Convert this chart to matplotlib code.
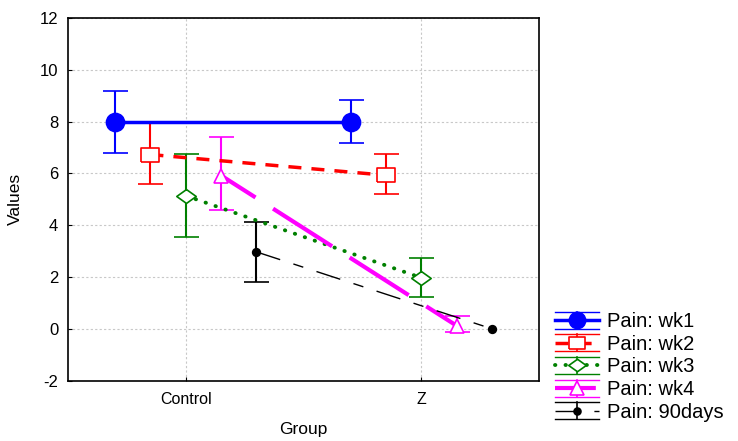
import matplotlib.pyplot as plt
from matplotlib.legend_handler import HandlerBase
from matplotlib.lines import Line2D

groups = ['Control', 'Z']
series = ['Pain: wk1', 'Pain: wk2', 'Pain: wk3', 'Pain: wk4', 'Pain: 90days']

# means and error bar limits per group (Control, Z)
wk1 = [8.0, 8.0]
wk1_lo = [6.8, 7.18]
wk1_hi = [9.18, 8.82]

wk2 = [6.73, 5.93]
wk2_lo = [5.6, 5.2]
wk2_hi = [7.95, 6.77]

wk3 = [5.14, 1.97]
wk3_lo = [3.55, 1.24]
wk3_hi = [6.77, 2.72]

wk4 = [5.92, 0.12]
wk4_lo = [4.58, -0.14]
wk4_hi = [7.39, 0.48]

d90 = [2.97, 0.0]
d90_lo = [1.8, 0.0]
d90_hi = [4.11, 0.0]

means = [wk1, wk2, wk3, wk4, d90]
lows = [wk1_lo, wk2_lo, wk3_lo, wk4_lo, d90_lo]
highs = [wk1_hi, wk2_hi, wk3_hi, wk4_hi, d90_hi]

offsets = [-0.3, -0.15, 0.0, 0.15, 0.3]
colors = ['#0000ff', '#ff0000', '#008000', '#ff00ff', '#000000']

# wide box and squat diamond markers
box = [(-1.3, -1), (1.3, -1), (1.3, 1), (-1.3, 1), (-1.3, -1)]
diamond = [(0, 1), (1.4, 0), (0, -1), (-1.4, 0), (0, 1)]
markers = ['o', box, diamond, '^', 'o']
msizes = [13, 13.5, 14, 10.5, 5.5]
mfaces = ['#0000ff', 'white', 'white', 'white', '#000000']
styles = ['-', (0, (3.75, 2.9)), (0, (0.1, 2.6)), (7, (16.8, 5)),
          (0, (18, 10, 7.5, 10))]
widths = [2.5, 2.5, 2.8, 3, 1]
dash_caps = ['butt', 'butt', 'round', 'butt', 'butt']


class StatHandler(HandlerBase):
    # legend key: series line with marker between two thin rules
    def create_artists(self, legend, orig_handle, xdescent, ydescent,
                       width, height, fontsize, trans):
        src = orig_handle.lines[0]
        x0, x1 = -xdescent, -xdescent + width
        xm = (x0 + x1) / 2
        yc = -ydescent + height / 2
        dy = 0.42 * fontsize
        c = src.get_color()
        mid = Line2D([x0, x1], [yc, yc])
        mid.update_from(src)
        mid.set_marker('None')
        mk = Line2D([xm], [yc])
        mk.update_from(src)
        mk.set_linestyle('None')
        mk.set_markersize(src.get_markersize() * 0.9)
        top = Line2D([x0, x1], [yc + dy, yc + dy], color=c, lw=1)
        bot = Line2D([x0, x1], [yc - dy, yc - dy], color=c, lw=1)
        vert = Line2D([xm, xm], [yc - dy, yc + dy], color=c, lw=1.2)
        arts = [top, bot, vert, mid, mk]
        for a in arts:
            a.set_clip_box(None)
            a.set_clip_path(None)
            a.set_transform(trans)
        return arts


plt.rcParams['font.family'] = ['Liberation Sans', 'DejaVu Sans']
plt.rcParams['axes.unicode_minus'] = False

fig = plt.figure(figsize=(7.38, 4.41), dpi=100)
ax = fig.add_axes([0.0921, 0.137, 0.6383, 0.822])

handles = []
for i in range(len(series)):
    xs = [g + offsets[i] for g in range(len(groups))]
    m = means[i]
    err = [[m[j] - lows[i][j] for j in range(2)],
           [highs[i][j] - m[j] for j in range(2)]]
    show = [highs[i][j] > lows[i][j] for j in range(2)]
    h = ax.errorbar(xs, m, yerr=err, errorevery=show, color=colors[i],
                    ls=styles[i], lw=widths[i], marker=markers[i], ms=msizes[i],
                    mfc=mfaces[i], mec=colors[i], mew=1.2, elinewidth=1.5,
                    capsize=9, capthick=1.5, dash_capstyle=dash_caps[i],
                    label=series[i], zorder=3)
    handles.append(h)

ax.set_xlim(-0.5, 1.5)
ax.set_ylim(-2, 12)
ax.set_yticks(range(-2, 13, 2))
ax.set_xticks(range(len(groups)))
ax.set_xticklabels(groups)
ax.grid(True, color='#c8c8c8', linestyle=(0, (2, 2)), linewidth=0.8)
ax.set_axisbelow(True)
ax.tick_params(direction='in', length=3)
ax.tick_params(axis='y', labelsize=12, pad=7)
ax.tick_params(axis='x', labelsize=11.5, pad=8)
for s in ax.spines.values():
    s.set_linewidth(1.2)

ax.set_xlabel('Group', fontsize=12.5, labelpad=11)
ax.set_ylabel('Values', fontsize=12.5, labelpad=12)

fig.legend(handles, series, loc='upper left', bbox_to_anchor=(0.752, 0.292),
           frameon=False, fontsize=14.5, handlelength=2.2, handletextpad=0.4,
           labelspacing=0.18, borderpad=0, borderaxespad=0,
           handler_map={type(handles[0]): StatHandler()})

fig.savefig('out.png', dpi=100)
